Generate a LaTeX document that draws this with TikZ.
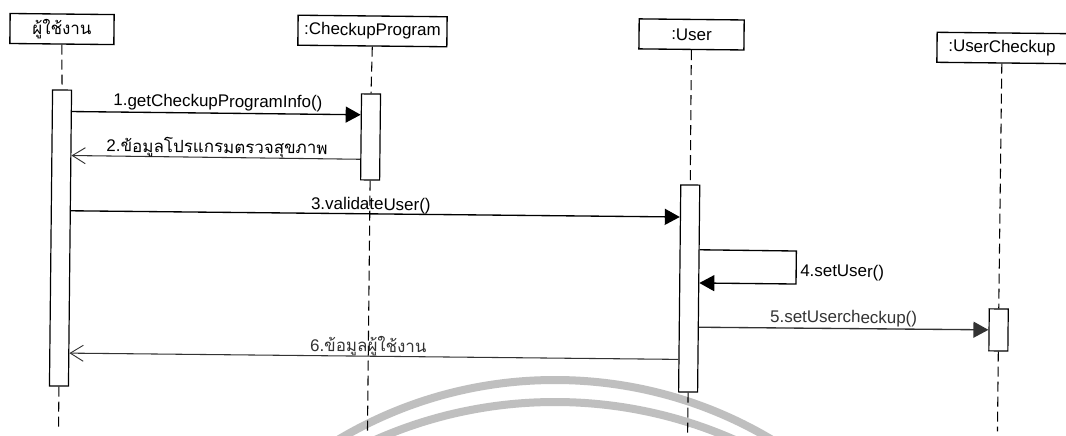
\documentclass[tikz,border=0pt]{standalone}
\usepackage{fontspec}
\setmainfont{Liberation Sans}
\newfontfamily\thaifont[Script=Thai]{Loma}
\usetikzlibrary{arrows.meta,calc}
\tikzset{
  objbox/.style={draw=black,line width=1pt,fill=white,inner sep=0pt,minimum height=22.5pt,font=\fontsize{12.7}{14}\selectfont},
  actbox/.style={draw=black,line width=0.9pt,fill=white,inner sep=0pt,minimum width=14.25pt},
  life/.style={line width=0.8pt,dash pattern=on 7.5pt off 3.75pt},
  sync/.style={line width=1pt,-{Triangle[length=11.25pt,width=12pt]}},
  reply/.style={line width=0.8pt,draw=black!80,-{Straight Barb[length=9.75pt,width=12pt,line width=0.7pt]}},
  msglabel/.style={anchor=base,inner sep=0pt,font=\fontsize{12.7}{14}\selectfont},
  stamp/.style={draw=black!25,line width=6pt}
}
\begin{document}
\begin{tikzpicture}[x=0.75pt,y=-0.75pt]
\useasboundingbox (0,0) rectangle (1066,435);
\fill[white] (0,0) rectangle (1066,435);
% watermark arcs
\begin{scope}
\clip (0,0) rectangle (1066,435);
\draw[stamp] (555,803) circle[radius=317.25pt];
\draw[stamp] (555,846) circle[radius=333pt];
\end{scope}
\begin{scope}[xshift=0.75pt,rotate=-0.6,transform shape]
% object boxes
\node[objbox,minimum width=78pt] (actor) at (61.3,28.4) {\thaifont ผู้ใช้งาน};
\node[objbox,minimum width=111.75pt] (prog) at (371.8,27.1) {:CheckupProgram};
\node[objbox,minimum width=78.75pt] (user) at (690.9,27.2) {:User};
\node[objbox,minimum width=97.5pt] (uc) at (1001.5,37.5) {:UserCheckup};
% activation bars
\node[actbox,minimum height=222pt] (a1) at (62,237.4) {};
\node[actbox,minimum height=64.5pt] (b1) at (371,133.1) {};
\node[actbox,minimum height=155.25pt] (c1) at (691.2,281.3) {};
\node[actbox,minimum height=31.5pt] (d1) at (1001,319.5) {};
% free ends
\coordinate (aend) at (62,431);
\coordinate (bend) at (371,428);
\coordinate (cend) at (691.2,427);
\coordinate (dend) at (1001,421);
\coordinate (loopA) at (798,242.7);
\coordinate (loopB) at (798,275.7);
% lifelines
\draw[life] (actor.south) -- (a1.north);
\draw[life] (a1.south) -- (aend);
\draw[life] (prog.south) -- (b1.north);
\draw[life] (b1.south) -- (bend);
\draw[life] (user.south) -- (c1.north);
\draw[life] (c1.south) -- (cend);
\draw[life] (uc.south) -- (d1.north);
\draw[life] (d1.south) -- (dend);
% messages
\draw[sync] ($(a1.north east)!0.074!(a1.south east)$) -- ($(b1.north west)!0.2465!(b1.south west)$);
\draw[reply] ($(b1.north west)!0.757!(b1.south west)$) -- ($(a1.north east)!0.222!(a1.south east)$);
\draw[sync] ($(a1.north east)!0.408!(a1.south east)$) -- ($(c1.north west)!0.157!(c1.south west)$);
\draw[sync] ($(c1.north east)!0.3135!(c1.south east)$) -- (loopA) -- (loopB) -- ($(c1.north east)!0.473!(c1.south east)$);
\draw[sync,draw=black!80,fill=black!80] ($(c1.north east)!0.6855!(c1.south east)$) -- (d1.west);
\draw[reply] ($(c1.north west)!0.841!(c1.south west)$) -- ($(a1.north east)!0.887!(a1.south east)$);
% labels
\node[msglabel] (l1) at (218,104.7) {1.getCheckupProgramInfo()};
\node[msglabel] (l2) at (217.6,150.7) {2.{\thaifont ข้อมูลโปรแกรมตรวจสุขภาพ}};
\node[msglabel] (l3) at (372,206) {3.validateUser()};
\node[msglabel] (l4) at (844,268) {4.setUser()};
\node[msglabel,text=black!80] (l5) at (846,314) {5.setUsercheckup()};
\node[msglabel,text=black!80] (l6) at (371,348) {6.{\thaifont ข้อมูลผู้ใช้งาน}};
\end{scope}
\end{tikzpicture}
\end{document}
